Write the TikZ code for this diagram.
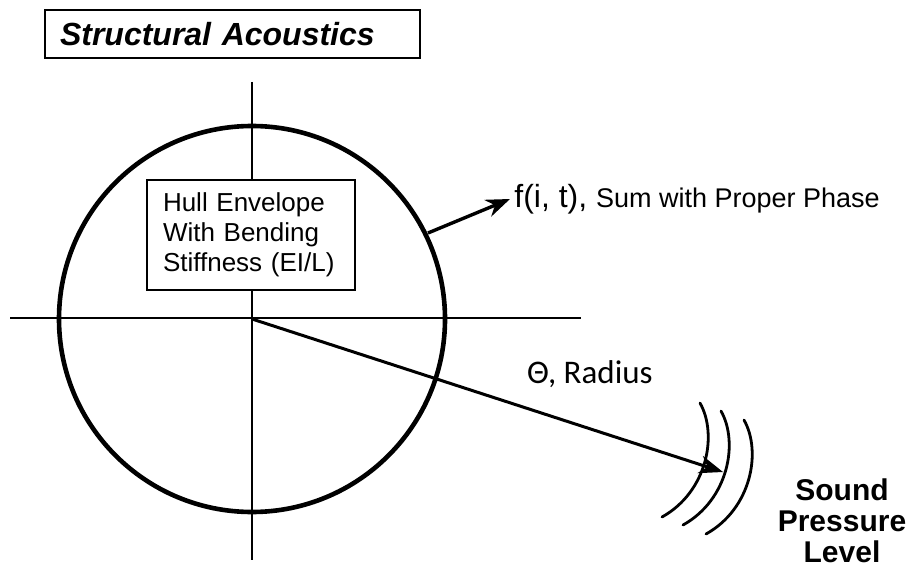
\documentclass[tikz,border=0pt]{standalone}
\usepackage{fontspec}
\setmainfont{Liberation Sans}
\newfontfamily\calfont{Carlito}
\usetikzlibrary{arrows.meta, positioning, calc}

\begin{document}
\begin{tikzpicture}[
  x=0.5pt, y=-0.5pt,
  every node/.style={font=\fontsize{13}{15}\selectfont},
  framed/.style={rectangle, draw, line width=1pt, fill=white, align=left},
  axis/.style={line width=1pt},
  wave/.style={line width=1.4pt, line cap=round}
]
  \useasboundingbox (0,0) rectangle (908,571);

  \coordinate (O) at (252,319);
  \coordinate (vtop) at (252,82);
  \coordinate (vbot) at (252,560);
  \coordinate (hleft) at (10,318);
  \coordinate (hright) at (581,318);
  \coordinate (fstart) at (428,233);
  \coordinate (tip) at (723,472);

  % cross and hull
  \draw[axis] (vtop) -- (vbot);
  \draw[axis] (hleft) -- (hright);
  \draw[line width=2.3pt] (O) circle[radius=96.5pt];

  \node[framed, minimum width=187.5pt, minimum height=24pt, text width=172.5pt,
        inner xsep=7.5pt, font=\fontsize{16}{18}\selectfont\bfseries\itshape]
    (title) at (232.5,34) {Structural Acoustics};
  \node[framed, minimum width=104pt, minimum height=55pt, text width=88pt,
        inner xsep=8pt] (hull) at (251,235)
    {Hull Envelope\\With Bending\\Stiffness (EI/L)};

  \node[anchor=west, inner sep=2pt, font=\fontsize{16}{18}\selectfont]
    (flabel) at (510,199) {f(i, t), {\fontsize{13.5}{15}\selectfont Sum with Proper Phase}};
  \draw[-{Stealth[length=12pt, width=9pt]}, line width=1.7pt] (fstart) -- (flabel.west);

  \node[anchor=west, font=\fontsize{16.5}{18}\selectfont\calfont] (rlabel) at (520,374) {Θ, Radius};
  \draw[-{Stealth[length=12pt, width=9pt]}, line width=1.5pt] (O) -- (tip);

  % sound waves
  \foreach \dx/\dy in {0/0, 21/8, 44/17}
    \draw[wave] (700+\dx,403+\dy) .. controls (718+\dx,435+\dy) and (707+\dx,492+\dy) .. (662+\dx,517+\dy);

  \node[align=center, font=\fontsize{15}{15.5}\selectfont\bfseries] (spl) at (842,521)
    {Sound\\Pressure\\Level};
\end{tikzpicture}
\end{document}
